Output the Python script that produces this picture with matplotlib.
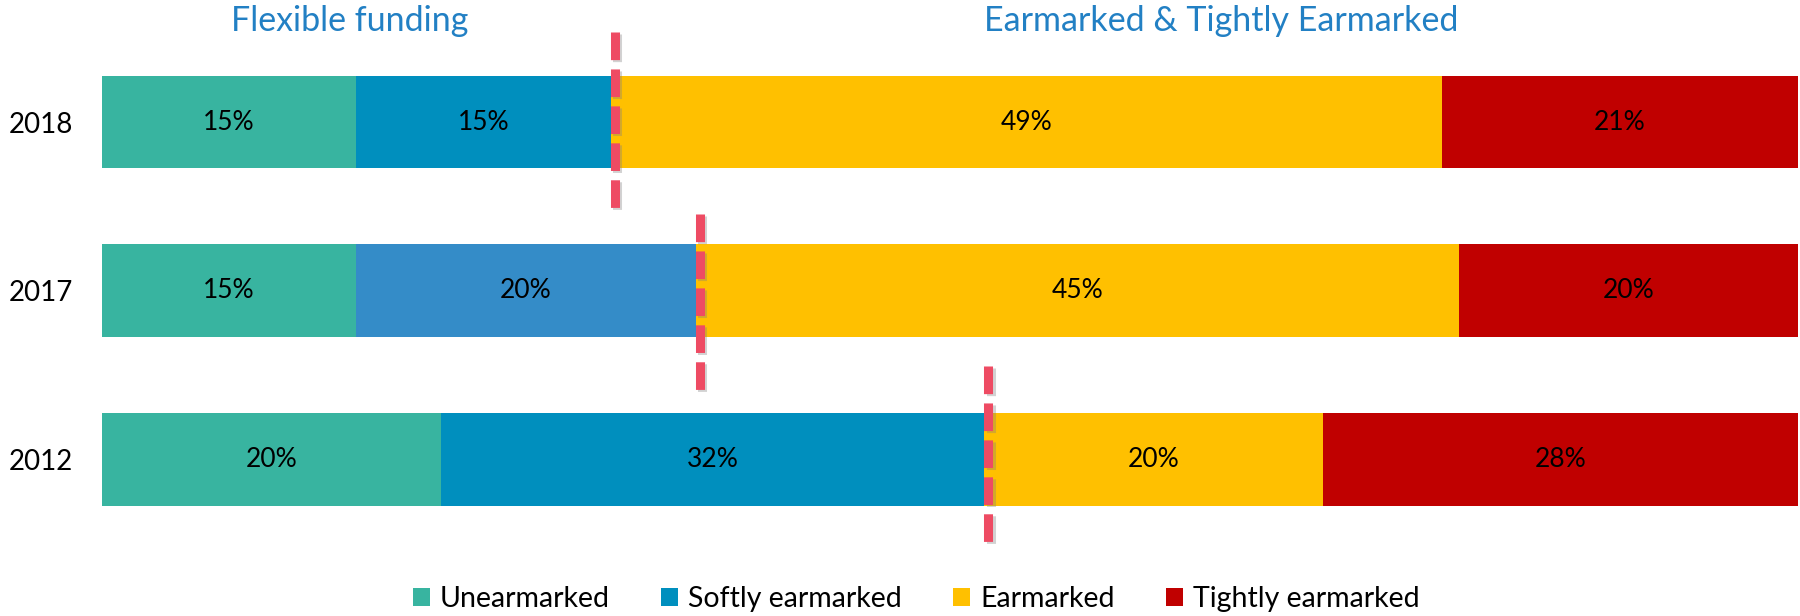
import numpy as np
import matplotlib.pyplot as plt
import matplotlib.patheffects as pe
from matplotlib.patches import Patch

plt.rcParams['font.family'] = ['Lato', 'DejaVu Sans']
plt.rcParams['lines.scale_dashes'] = False

years = ["2018", "2017", "2012"]
categories = ["Unearmarked", "Softly earmarked", "Earmarked", "Tightly earmarked"]
unearmarked = [15, 15, 20]
softly = [15, 20, 32]
earmarked = [49, 45, 20]
tightly = [21, 20, 28]

colors = ["#38B4A0", "#008FBE", "#FFC000", "#C00000"]
softly_colors = ["#008FBE", "#348CC8", "#008FBE"]  # 2017 bar is a lighter blue

fig = plt.figure(figsize=(18, 6.16), dpi=100)
ax = fig.add_axes([102 / 1800, 0, 1696 / 1800, 1])

y = np.arange(len(years))
series = [unearmarked, softly, earmarked, tightly]
left = np.zeros(len(years))
for k, vals in enumerate(series):
    vals = np.array(vals, dtype=float)
    c = softly_colors if k == 1 else colors[k]
    ax.barh(y, vals, left=left, height=0.55, color=c, edgecolor='none')
    for i, v in enumerate(vals):
        ax.text(left[i] + v / 2, y[i], f"{int(v)}%", ha='center', va='center',
                fontsize=19, color='black')
    left += vals

# dashed separators between flexible and earmarked funding
flex = np.array(unearmarked) + np.array(softly)
line_offsets = [(-0.534, 0.51), (-0.457, 0.593), (-0.552, 0.493)]
for i, x in enumerate(flex):
    top, bot = line_offsets[i]
    x = x + 0.27  # line sits just right of the boundary
    ax.plot([x, x], [y[i] + top, y[i] + bot], color='#EE4B63', lw=6.5,
            solid_capstyle='butt', dash_capstyle='butt', dashes=(19.9, 6.7),
            path_effects=[pe.SimpleLineShadow(offset=(1.5, -1.5), shadow_color='gray', alpha=0.35),
                          pe.Normal()], zorder=5)

ax.set_xlim(0, 100)
ax.set_ylim(2.93, -0.724)
ax.set_yticks(y)
ax.set_yticklabels(years, fontsize=20)
ax.tick_params(axis='y', length=0, pad=21)
ax.set_xticks([])
for s in ax.spines.values():
    s.set_visible(False)

# group headers
ax.text(14.6, -0.6, "Flexible funding", ha='center', va='center',
        fontsize=24.5, color='#2280C4')
ax.text(66.0, -0.6, "Earmarked & Tightly Earmarked", ha='center', va='center',
        fontsize=24.5, color='#2280C4')

handles = [Patch(facecolor=c, edgecolor='none') for c in colors]
fig.legend(handles, categories, loc='center', bbox_to_anchor=(0.509, 0.028),
           ncol=4, frameon=False, fontsize=20.5, handlelength=0.6, handleheight=0.6,
           handletextpad=0.35, columnspacing=1.8)

fig.savefig('out.png', dpi=100)
